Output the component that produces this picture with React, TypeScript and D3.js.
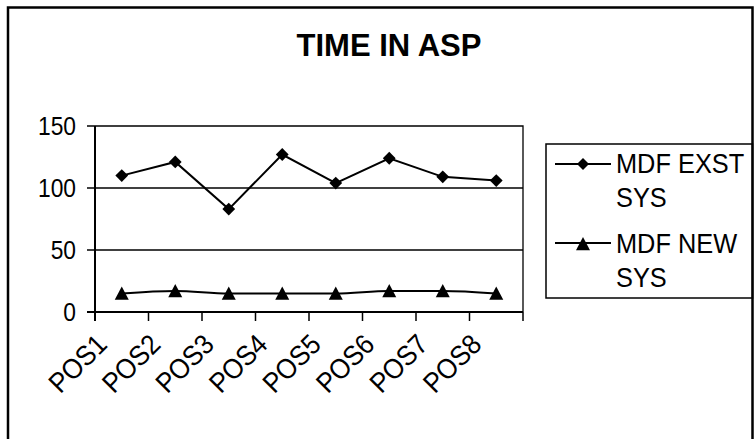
import React from "react";
import * as d3 from "d3";

const categories = ["POS1", "POS2", "POS3", "POS4", "POS5", "POS6", "POS7", "POS8"];
const exstValues = [110, 121, 83, 127, 104, 124, 109, 106];
const newValues = [15, 17, 15, 15, 15, 17, 17, 15];
const yTicks = [0, 50, 100, 150];
const seriesNames = [["MDF EXST", "SYS"], ["MDF NEW", "SYS"]];
const title = "TIME IN ASP";

const W = 754;
const H = 439;
const plot = { left: 95, right: 523, top: 126, bottom: 312 };
const FONT = "'Liberation Sans', Arial, Helvetica, sans-serif";

function T(props: {
  x: number;
  y: number;
  size: number;
  anchor?: string;
  rotate?: number;
  sx?: number;
  children: React.ReactNode;
}) {
  const { x, y, size, anchor = "start", rotate = 0, sx = 0.89, children } = props;
  return (
    <text
      transform={`translate(${x},${y}) rotate(${rotate}) scale(${sx},1)`}
      textAnchor={anchor}
      fontSize={size}
    >
      {children}
    </text>
  );
}

export default function App() {
  const x = d3.scaleBand<string>().domain(categories).range([plot.left, plot.right]);
  const y = d3.scaleLinear().domain([0, 150]).range([plot.bottom, plot.top]);
  const cx = (c: string) => (x(c) as number) + x.bandwidth() / 2;

  const lineExst = d3
    .line<number>()
    .x((_, i) => cx(categories[i]))
    .y((d) => y(d));
  const lineNew = d3
    .line<number>()
    .x((_, i) => cx(categories[i]))
    .y((d) => y(d))
    .curve(d3.curveMonotoneX);

  const diamond = (px: number, py: number, r = 6.4) =>
    `M${px},${py - r}L${px + r},${py}L${px},${py + r}L${px - r},${py}Z`;
  const triangle = (px: number, py: number, s = 7) =>
    `M${px},${py - s}L${px + s},${py + s * 0.9}L${px - s},${py + s * 0.9}Z`;

  const bounds = [...categories.map((c) => x(c) as number), plot.right];

  const legX = 546;
  const legY = 144;
  const legW = 206.5;
  const legH = 154;
  const baseY = [173, 253];
  const markY = [164, 243];

  return (
    <svg
      width={W}
      height={H}
      style={{ position: "absolute", left: 0, top: 0, background: "#fff" }}
      fontFamily={FONT}
    >
      <rect x={0} y={0} width={W} height={H} fill="#fff" />
      {/* outer border */}
      <path d={`M8,${H}L8,7.5L752.5,7.5L752.5,${H}`} fill="none" stroke="#000" strokeWidth={2.5} />

      <text x={389} y={56} textAnchor="middle" fontSize={31} fontWeight="bold">
        {title}
      </text>

      {/* plot area border (top/right) */}
      <path
        d={`M${plot.left},${plot.top}L${plot.right},${plot.top}L${plot.right},${plot.bottom}`}
        fill="none"
        stroke="#000"
        strokeWidth={1.3}
      />

      {/* gridlines */}
      {yTicks
        .filter((t) => t > 0 && t < 150)
        .map((t) => (
          <line key={t} x1={plot.left} x2={plot.right} y1={y(t)} y2={y(t)} stroke="#000" strokeWidth={1.3} />
        ))}

      {/* y axis */}
      <line x1={plot.left} x2={plot.left} y1={plot.top} y2={plot.bottom + 9} stroke="#000" strokeWidth={2} />
      {yTicks.map((t) => (
        <g key={t}>
          <line x1={plot.left - 8} x2={plot.left} y1={y(t)} y2={y(t)} stroke="#000" strokeWidth={1.5} />
          <T x={76} y={y(t) + 9} size={25.6} anchor="end">
            {t}
          </T>
        </g>
      ))}

      {/* x axis */}
      <line x1={plot.left - 8} x2={plot.right} y1={plot.bottom} y2={plot.bottom} stroke="#000" strokeWidth={2} />
      {bounds.map((b, i) => (
        <line key={i} x1={b} x2={b} y1={plot.bottom} y2={plot.bottom + 9} stroke="#000" strokeWidth={1.5} />
      ))}
      {categories.map((c) => (
        <T key={c} x={cx(c) - 13} y={plot.bottom + 34} size={28} sx={0.92} anchor="end" rotate={-45}>
          {c}
        </T>
      ))}

      {/* series */}
      <path d={lineExst(exstValues) || ""} fill="none" stroke="#000" strokeWidth={2} />
      <path d={lineNew(newValues) || ""} fill="none" stroke="#000" strokeWidth={2} />
      {exstValues.map((v, i) => (
        <path key={"d" + i} d={diamond(cx(categories[i]), y(v))} fill="#000" />
      ))}
      {newValues.map((v, i) => (
        <path key={"t" + i} d={triangle(cx(categories[i]), y(v))} fill="#000" />
      ))}

      {/* legend */}
      <rect x={legX} y={legY} width={legW} height={legH} fill="none" stroke="#000" strokeWidth={1.5} />
      {seriesNames.map((lines, i) => (
        <g key={i}>
          <line x1={555} x2={611} y1={markY[i]} y2={markY[i]} stroke="#000" strokeWidth={2} />
          {i === 0 ? (
            <path d={diamond(583, markY[i], 6)} fill="#000" />
          ) : (
            <path d={triangle(583, markY[i] + 1, 7)} fill="#000" />
          )}
          {lines.map((l, j) => (
            <T key={j} x={616} y={baseY[i] + j * 33.5} size={28.5}>
              {l}
            </T>
          ))}
        </g>
      ))}
    </svg>
  );
}
